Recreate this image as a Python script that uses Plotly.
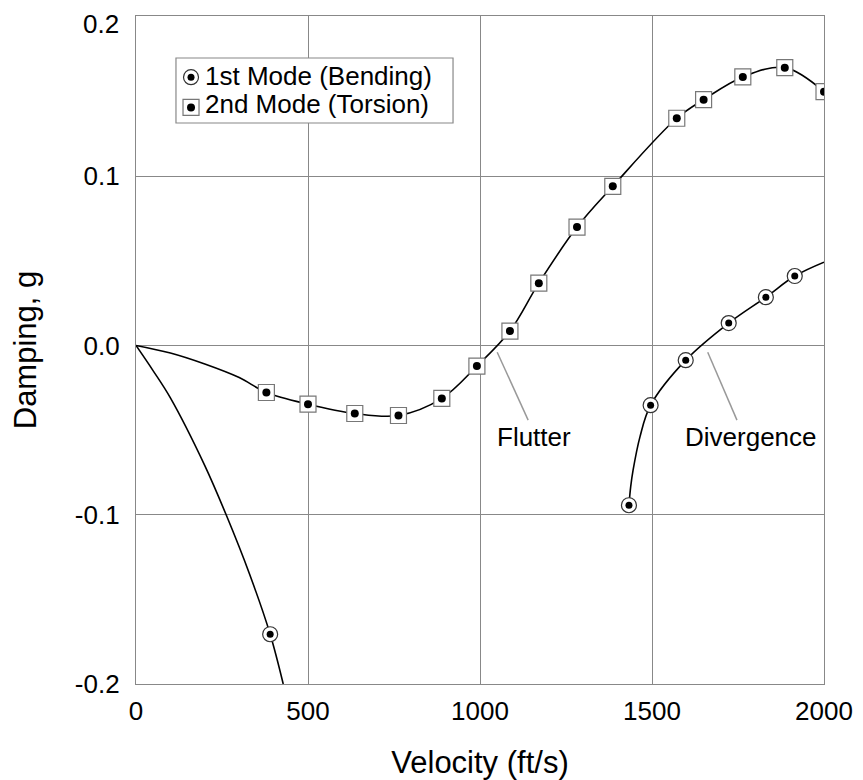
import plotly.graph_objects as go

# ---- data ----
# 2nd mode (torsion) measured points
mode2_v = [379, 500, 636, 763, 889, 991, 1087, 1171, 1282, 1386, 1572, 1650, 1764, 1886, 2000]
mode2_g = [-0.0278, -0.0347, -0.0402, -0.0414, -0.0313, -0.0122, 0.0085, 0.0368, 0.0699,
           0.0940, 0.1342, 0.1452, 0.1586, 0.1641, 0.1499]
# 2nd mode fitted curve
curve2_v = [0, 100, 200, 300] + mode2_v
curve2_g = [0.0, -0.0045, -0.011, -0.019] + mode2_g

# 1st mode (bending) measured points
mode1_v = [390, 1433, 1496, 1598, 1723, 1831, 1915]
mode1_g = [-0.1706, -0.0944, -0.0353, -0.0087, 0.0132, 0.0285, 0.0410]
# 1st mode fitted curves (two branches)
curve1a_v = [0, 50, 100, 200, 263, 330, 390, 428]
curve1a_g = [0.0, -0.015, -0.031, -0.071, -0.1005, -0.135, -0.1706, -0.2]
curve1b_v = [1433, 1438, 1445, 1465, 1496, 1598, 1723, 1831, 1915, 2000]
curve1b_g = [-0.0944, -0.0836, -0.0737, -0.054, -0.0353, -0.0087, 0.0132, 0.0285, 0.0410, 0.0492]

series_names = ["1st Mode (Bending)", "2nd Mode (Torsion)"]

x_ticks = [0, 500, 1000, 1500, 2000]
y_top = 0.1946
y_ticks = [-0.2, -0.1, 0.0, 0.1]
y_ticktext = ["-0.2", "-0.1", "0.0", "0.1"]
y_top_label = "0.2"

labels = ["Flutter", "Divergence"]
label_pos = [(1157, -0.0542), (1787, -0.0542)]
leader_lines = [((1050, -0.004), (1140, -0.0441)), ((1662, -0.004), (1747, -0.0441))]

FONT = "Liberation Sans, Arial, sans-serif"
FS = 26

fig = go.Figure()

for v, g in [(curve2_v, curve2_g), (curve1a_v, curve1a_g), (curve1b_v, curve1b_g)]:
    fig.add_trace(go.Scatter(x=v, y=g, mode="lines", line=dict(color="black", width=1.6, shape="spline"),
                             showlegend=False, hoverinfo="skip"))

# outer symbols
fig.add_trace(go.Scatter(x=mode1_v, y=mode1_g, mode="markers", name="\u00a0",
                         marker=dict(symbol="circle", size=15, color="white", line=dict(color="#333", width=1.2)),
                         legend="legend"))
fig.add_trace(go.Scatter(x=mode2_v, y=mode2_g, mode="markers", name="\u00a0",
                         marker=dict(symbol="square", size=16, color="white", line=dict(color="#777", width=1.2)),
                         legend="legend"))
# inner dots
fig.add_trace(go.Scatter(x=mode1_v, y=mode1_g, mode="markers", name="\u00a0",
                         marker=dict(symbol="circle", size=7, color="black", line=dict(width=0)),
                         legend="legend2"))
fig.add_trace(go.Scatter(x=mode2_v, y=mode2_g, mode="markers", name="\u00a0",
                         marker=dict(symbol="circle", size=8, color="black", line=dict(width=0)),
                         legend="legend2"))

for (x0, y0), (x1, y1) in leader_lines:
    fig.add_shape(type="line", x0=x0, y0=y0, x1=x1, y1=y1, xref="x", yref="y",
                  line=dict(color="#999", width=1.5))
for t, (x, y) in zip(labels, label_pos):
    fig.add_annotation(x=x, y=y, text=t, showarrow=False, xref="x", yref="y",
                       font=dict(family=FONT, size=FS, color="black"))

# top y tick label (sits at the upper frame edge)
fig.add_annotation(x=-0.0233, y=0.988, xref="paper", yref="paper", text=y_top_label, showarrow=False,
                   xanchor="right", yanchor="middle", borderpad=0,
                   font=dict(family=FONT, size=FS, color="black"))

# legend frame and texts (symbols come from the plotly legends)
fig.add_shape(type="rect", xref="paper", yref="paper", x0=0.0581, x1=0.4608, y0=0.8398, y1=0.9371,
              line=dict(color="#888", width=1.2), fillcolor="white", layer="above")
for name, yy in zip(series_names, [0.9102, 0.8683]):
    fig.add_annotation(x=0.0974, y=yy, xref="paper", yref="paper", text=name, showarrow=False,
                       xanchor="left", yanchor="middle", font=dict(family=FONT, size=FS, color="black"))

leg_common = dict(x=0.0509, y=0.9386, xanchor="left", yanchor="top",
                  bgcolor="rgba(0,0,0,0)", borderwidth=0,
                  font=dict(family=FONT, size=21, color="black"))
fig.update_layout(
    width=855, height=772,
    margin=dict(l=128, r=39, t=8, b=96),
    paper_bgcolor="white", plot_bgcolor="white",
    font=dict(family=FONT, size=FS, color="black"),
    legend=dict(**leg_common),
    legend2=dict(**leg_common),
    xaxis=dict(range=[0, 2000], tickvals=x_ticks, showgrid=True, gridcolor="#888", gridwidth=1.3,
               zeroline=False, showline=True, mirror=True, linecolor="#888", linewidth=1.3,
               ticks="", automargin=False, ticklabelstandoff=4,
               title=dict(text="Velocity (ft/s)", standoff=33),
               tickfont=dict(size=FS)),
    yaxis=dict(range=[-0.2, y_top], tickvals=y_ticks, ticktext=y_ticktext, showgrid=True,
               gridcolor="#888", gridwidth=1.3, zeroline=False, showline=True, mirror=True,
               linecolor="#888", linewidth=1.3, ticks="", ticklabelstandoff=10, automargin=False,
               title=dict(text="Damping, g", standoff=30), tickfont=dict(size=FS)),
)

fig.write_html("out.html")
